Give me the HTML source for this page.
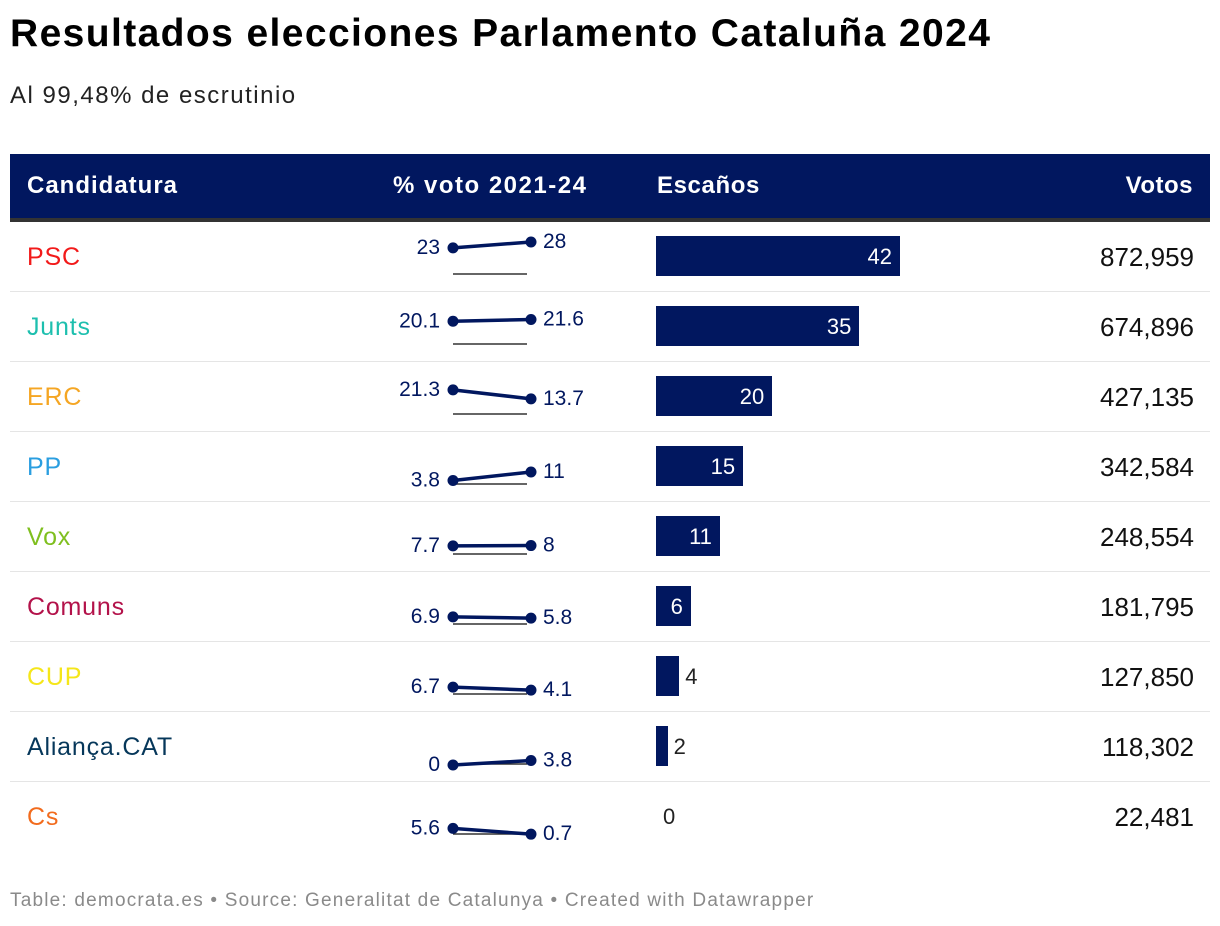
<!DOCTYPE html>
<html><head><meta charset="utf-8"><style>
body{margin:0;background:#fff;width:1220px;height:926px;position:relative;font-family:"Liberation Sans",sans-serif;overflow:hidden}
.a{position:absolute;white-space:nowrap}
</style></head><body>
<div class="a" style="left:10px;top:12px;font-size:39px;font-weight:bold;color:#000;letter-spacing:1.4px">Resultados elecciones Parlamento Cataluña 2024</div>
<div class="a" style="left:10px;top:82px;font-size:24px;color:#222;letter-spacing:1.5px">Al 99,48% de escrutinio</div>
<div class="a" style="left:10px;top:154px;width:1200px;height:64px;background:#01175f;border-bottom:4px solid #333"></div>
<div class="a" style="left:27px;top:172px;font-size:24px;font-weight:bold;color:#fff;letter-spacing:1px">Candidatura</div>
<div class="a" style="left:393px;top:172px;font-size:24px;font-weight:bold;color:#fff;letter-spacing:1.5px">% voto 2021-24</div>
<div class="a" style="left:657px;top:172px;font-size:24px;font-weight:bold;color:#fff;letter-spacing:0.6px">Escaños</div>
<div class="a" style="right:27px;top:172px;font-size:24px;font-weight:bold;color:#fff;letter-spacing:0.5px">Votos</div>
<div id="rows"></div>
<div class="a" style="left:10px;top:890px;font-size:19px;color:#8a8a8a;letter-spacing:1.2px">Table: democrata.es • Source: Generalitat de Catalunya • Created with Datawrapper</div>
<script>
const parties=["PSC","Junts","ERC","PP","Vox","Comuns","CUP","Aliança.CAT","Cs"];
const colors=["#f21a1a","#1dbfae","#f5a623","#2a9ee0","#7fbf1f","#b3124a","#f5e61a","#06375a","#f26b1d"];
const vote2021=[23,20.1,21.3,3.8,7.7,6.9,6.7,0,5.6];
const vote2024=[28,21.6,13.7,11,8,5.8,4.1,3.8,0.7];
const seats=[42,35,20,15,11,6,4,2,0];
const votes=["872,959","674,896","427,135","342,584","248,554","181,795","127,850","118,302","22,481"];
const root=document.getElementById('rows');
const navy="#01175f";
const yv=v=>53-v*1.18;
const xs=s=>s*5.81;
parties.forEach((p,i)=>{
  const top=222+70*i;
  const r=document.createElement('div');
  r.className='a';
  
  
  r.style.cssText=`left:10px;top:${top}px;width:1200px;height:69px;`+(i<parties.length-1?'border-bottom:1px solid #e5e5e5':'');
  let h=`<div class="a" style="left:17px;top:21px;font-size:25px;letter-spacing:0.8px;color:${colors[i]}">${p}</div>`;
  const y1=yv(vote2021[i]),y2=yv(vote2024[i]);
  h+=`<svg class="a" style="left:370px;top:0" width="240" height="69">
  <line x1="73" y1="52" x2="147" y2="52" stroke="#333" stroke-width="1.5"/>
  <line x1="73" y1="${y1}" x2="151" y2="${y2}" stroke="${navy}" stroke-width="3.5"/>
  <circle cx="73" cy="${y1}" r="5.5" fill="${navy}"/><circle cx="151" cy="${y2}" r="5.5" fill="${navy}"/>
  <text x="60" y="${y1+6}" text-anchor="end" font-size="21" fill="${navy}" font-family="Liberation Sans">${vote2021[i]}</text>
  <text x="163" y="${y2+6}" font-size="21" fill="${navy}" font-family="Liberation Sans">${vote2024[i]}</text></svg>`;
  const w=xs(seats[i]);
  h+=`<div class="a" style="left:646px;top:14px;width:${w}px;height:40px;background:${navy}"></div>`;
  if(seats[i]>=6) h+=`<div class="a" style="left:${646+w-50}px;width:42px;text-align:right;top:22px;font-size:22px;color:#fff">${seats[i]}</div>`;
  else h+=`<div class="a" style="left:${646+w+(seats[i]?6:7)}px;top:22px;font-size:22px;color:#222">${seats[i]}</div>`;
  h+=`<div class="a" style="right:16px;top:20px;font-size:26px;color:#111">${votes[i]}</div>`;
  r.innerHTML=h;
  root.appendChild(r);
});
</script>
</body></html>
